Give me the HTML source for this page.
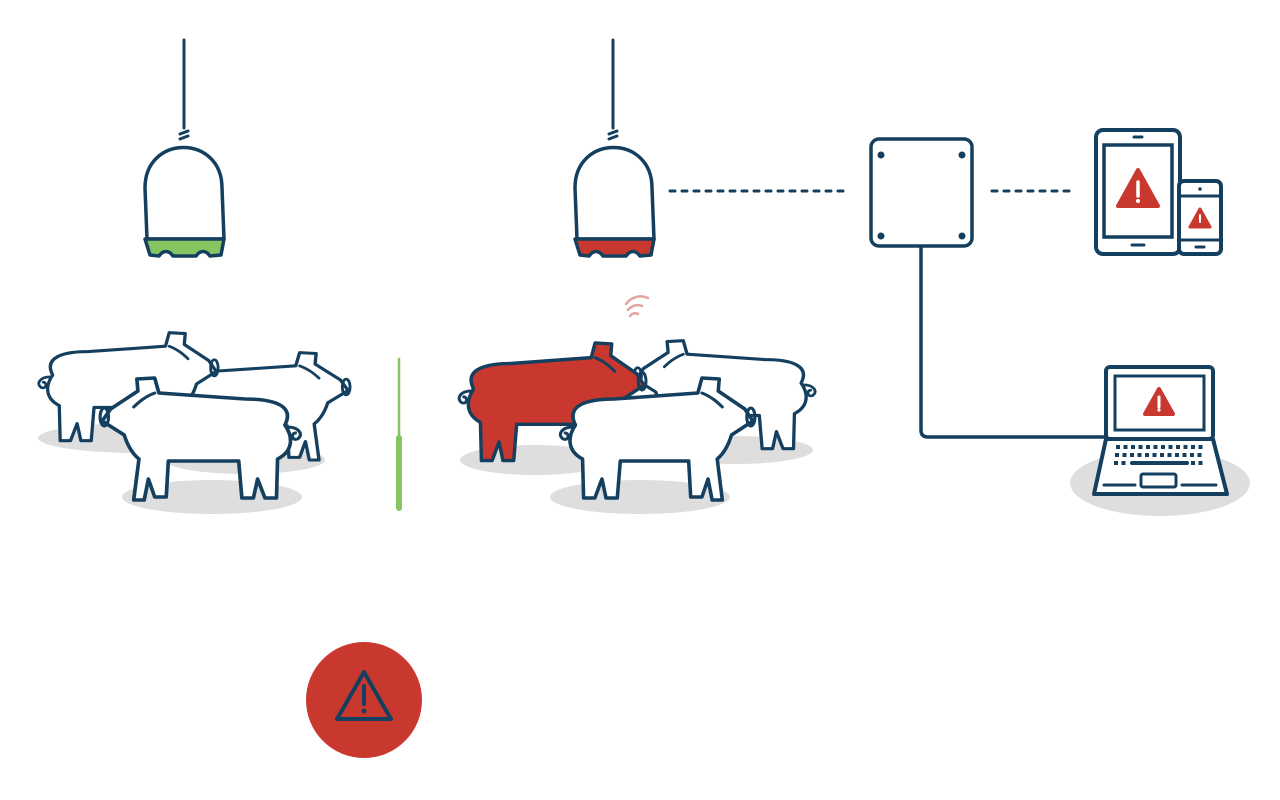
<!DOCTYPE html>
<html><head><meta charset="utf-8"><style>html,body{margin:0;padding:0;background:#fff}svg{display:block}</style></head>
<body>
<svg width="1280" height="800" viewBox="0 0 1280 800" xmlns="http://www.w3.org/2000/svg">
<defs>
<g id="pig">
<path d="M22,50 C12,30 34,24 60,24 L142,18 L146,3 L163,4 L162,16 L188,34 L196,46 L175,60 C172,70 168,78 161,84 L166,125 L156,125 L152,104 L146,122 L135,122 L133,86 L66,86 L63,123 L52,123 L48,104 L41,123 L30,123 L29,84 C14,76 14,62 22,50 Z" stroke="#143f5f" stroke-width="3.5" stroke-linejoin="round"/>
<path d="M20,52 C8,52 4,60 10,64 C16,66 16,58 12,58" fill="none" stroke="#143f5f" stroke-width="3"/>
<ellipse cx="194" cy="42" rx="4" ry="9" fill="none" stroke="#143f5f" stroke-width="3"/>
<path d="M146,18 C156,22 162,28 166,32" fill="none" stroke="#143f5f" stroke-width="3"/>
</g>
</defs>
<g stroke-linecap="round">
<g fill="#dedede">
<ellipse cx="140" cy="438" rx="102" ry="15"/>
<ellipse cx="245" cy="460" rx="80" ry="14"/>
<ellipse cx="212" cy="497" rx="90" ry="17"/>
<ellipse cx="535" cy="460" rx="75" ry="15"/>
<ellipse cx="735" cy="450" rx="78" ry="14"/>
<ellipse cx="640" cy="497" rx="90" ry="17"/>
<ellipse cx="1160" cy="483" rx="90" ry="33"/>
</g>
<use href="#pig" fill="#fff" transform="translate(158,350) scale(0.97,0.88)"/>
<use href="#pig" fill="#fff" transform="translate(32,330) scale(0.94,0.9)"/>
<use href="#pig" fill="#fff" transform="translate(308,375) scale(-1.05,1)"/>
<use href="#pig" fill="#fff" transform="translate(822,338) scale(-0.95,0.9)"/>
<use href="#pig" fill="#c9382e" transform="translate(452,340) scale(0.98,0.98)"/>
<use href="#pig" fill="#fff" transform="translate(553,375) scale(1.02,1)"/>
<g fill="none" stroke="#e3a59e" stroke-width="2.5">
<path d="M630,316 a6,6 0 0 1 8,-2"/>
<path d="M628,310 a12,12 0 0 1 14,-4"/>
<path d="M626,304 a18,18 0 0 1 22,-6"/>
</g>
<g stroke="#143f5f" stroke-width="3" fill="none">
<line x1="184" y1="40" x2="184" y2="128"/><line x1="180" y1="134" x2="188" y2="131"/><line x1="180" y1="139" x2="188" y2="136"/>
<line x1="613" y1="40" x2="613" y2="128"/><line x1="609" y1="134" x2="617" y2="131"/><line x1="609" y1="139" x2="617" y2="136"/>
</g>
<path d="M147,239 L145,188 C145,134 222,134 222,188 L224,239 Z" fill="#fff" stroke="#143f5f" stroke-width="3.5" stroke-linejoin="round"/>
<path d="M145,239 L224,239 L221,255 L210,256 C206,250 200,250 196,256 L173,256 C169,250 163,250 159,256 L150,255 Z" fill="#86c662" stroke="#143f5f" stroke-width="3.5" stroke-linejoin="round"/>
<path d="M577,239 L575,188 C575,134 652,134 652,188 L654,239 Z" fill="#fff" stroke="#143f5f" stroke-width="3.5" stroke-linejoin="round"/>
<path d="M575,239 L654,239 L651,255 L640,256 C636,250 630,250 626,256 L603,256 C599,250 593,250 589,256 L580,255 Z" fill="#c9382e" stroke="#143f5f" stroke-width="3.5" stroke-linejoin="round"/>
<g stroke="#143f5f" stroke-width="3" stroke-dasharray="5 7">
<line x1="670" y1="191" x2="845" y2="191"/><line x1="992" y1="191" x2="1070" y2="191"/>
</g>
<rect x="871" y="139" width="101" height="107" rx="8" fill="#fff" stroke="#143f5f" stroke-width="3.5"/>
<g fill="#143f5f"><circle cx="881" cy="155" r="3.5"/><circle cx="962" cy="155" r="3.5"/><circle cx="881" cy="236" r="3.5"/><circle cx="962" cy="236" r="3.5"/></g>
<path d="M921,247 L921,430 Q921,437 928,437 L1106,437" fill="none" stroke="#143f5f" stroke-width="3.5"/>
<rect x="1096" y="130" width="84" height="124" rx="7" fill="#fff" stroke="#143f5f" stroke-width="4"/>
<rect x="1104" y="145" width="68" height="92" fill="#fff" stroke="#143f5f" stroke-width="3.5"/>
<line x1="1134" y1="137" x2="1142" y2="137" stroke="#143f5f" stroke-width="3"/>
<line x1="1132" y1="245" x2="1144" y2="245" stroke="#143f5f" stroke-width="3"/>
<path d="M1138,170 L1158,206 L1118,206 Z" fill="#c9382e" stroke="#c9382e" stroke-width="4" stroke-linejoin="round"/>
<line x1="1138" y1="182" x2="1138" y2="196" stroke="#fff" stroke-width="3.5"/><circle cx="1138" cy="201" r="2" fill="#fff"/>
<rect x="1179" y="181" width="42" height="73" rx="5" fill="#fff" stroke="#143f5f" stroke-width="4"/>
<line x1="1181" y1="196" x2="1219" y2="196" stroke="#143f5f" stroke-width="3"/>
<line x1="1181" y1="240" x2="1219" y2="240" stroke="#143f5f" stroke-width="3"/>
<circle cx="1200" cy="189" r="1.8" fill="#143f5f"/>
<line x1="1196" y1="247" x2="1204" y2="247" stroke="#143f5f" stroke-width="3"/>
<path d="M1200,209 L1210,227 L1190,227 Z" fill="#c9382e" stroke="#c9382e" stroke-width="3" stroke-linejoin="round"/>
<line x1="1200" y1="215" x2="1200" y2="222" stroke="#fff" stroke-width="2"/>
<rect x="1106" y="367" width="107" height="72" rx="4" fill="#fff" stroke="#143f5f" stroke-width="4"/>
<rect x="1115" y="376" width="89" height="54" fill="#fff" stroke="#143f5f" stroke-width="3"/>
<path d="M1159,389 L1173,414 L1145,414 Z" fill="#c9382e" stroke="#c9382e" stroke-width="4" stroke-linejoin="round"/>
<line x1="1159" y1="397" x2="1159" y2="407" stroke="#fff" stroke-width="3"/><circle cx="1159" cy="410" r="1.6" fill="#fff"/>
<path d="M1106,439 L1213,439 L1227,494 L1094,494 Z" fill="#fff" stroke="#143f5f" stroke-width="4" stroke-linejoin="round"/>
<g stroke="#143f5f" stroke-width="4" stroke-dasharray="4 3.5" stroke-linecap="butt">
<line x1="1116" y1="447" x2="1204" y2="447"/><line x1="1115" y1="455" x2="1205" y2="455"/>
<line x1="1114" y1="463" x2="1128" y2="463"/><line x1="1191" y1="463" x2="1206" y2="463"/>
</g>
<line x1="1132" y1="463" x2="1187" y2="463" stroke="#143f5f" stroke-width="4"/>
<rect x="1141" y="474" width="35" height="13" rx="2" fill="none" stroke="#143f5f" stroke-width="3"/>
<line x1="1104" y1="485" x2="1135" y2="485" stroke="#143f5f" stroke-width="3"/>
<line x1="1182" y1="485" x2="1216" y2="485" stroke="#143f5f" stroke-width="3"/>
<line x1="399" y1="359" x2="399" y2="440" stroke="#86c662" stroke-width="2.5"/>
<line x1="399" y1="438" x2="399" y2="508" stroke="#86c662" stroke-width="6"/>
<circle cx="364" cy="700" r="58" fill="#c9382e"/>
<path d="M364,672 L391,719 L337,719 Z" fill="none" stroke="#143f5f" stroke-width="4" stroke-linejoin="round"/>
<line x1="364" y1="686" x2="364" y2="704" stroke="#143f5f" stroke-width="4"/>
<circle cx="364" cy="711" r="2.5" fill="#143f5f"/>
</g>
</svg>
</body></html>
